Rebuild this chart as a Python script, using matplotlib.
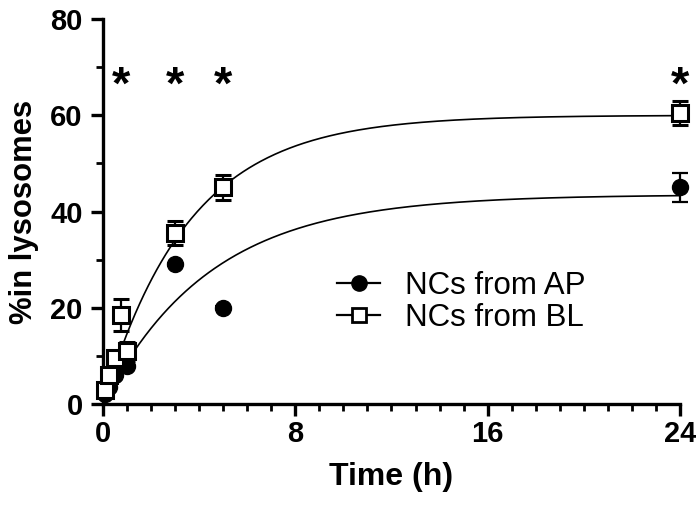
import numpy as np
import matplotlib
matplotlib.use("Agg")
import matplotlib.pyplot as plt
from matplotlib.ticker import MultipleLocator

plt.rcParams['font.family'] = ['Liberation Sans', 'DejaVu Sans']

# ---- data ----
time_h = [0.083, 0.25, 0.5, 0.75, 1, 3, 5, 24]
ap_mean = [2.0, 3.5, 6.0, 9.5, 8.0, 29.0, 20.0, 45.0]
ap_err = [0.3, 0.3, 0.3, 0.3, 0.3, 0.3, 0.3, 3.0]
bl_mean = [3.0, 6.0, 9.6, 18.5, 11.0, 35.5, 45.0, 60.5]
bl_err = [1.0, 1.0, 1.0, 3.3, 2.0, 2.5, 2.5, 2.5]

# one-phase association fit parameters (plateau, rate constant)
ap_fit = (43.5, 0.225)
bl_fit = (60.0, 0.28)

star_times = [0.75, 3, 5, 24]
star_y = 66

fig = plt.figure(figsize=(6.96, 5.07), dpi=100)
ax = fig.add_axes([0.148, 0.203, 0.829, 0.7595])

tfit = np.linspace(time_h[0], 24, 400)
for (plat, k) in (ap_fit, bl_fit):
    ax.plot(tfit, plat * (1 - np.exp(-k * tfit)), color='black', lw=1.2, zorder=2)

ax.errorbar(time_h, ap_mean, yerr=ap_err, fmt='o', ms=11.5, color='black',
            mfc='black', mec='black', ecolor='black', elinewidth=1.6,
            capsize=5.6, capthick=1.6, clip_on=False, zorder=3)
ax.errorbar(time_h, bl_mean, yerr=bl_err, fmt='s', ms=11, color='black',
            mfc='white', mec='black', mew=2.2, ecolor='black', elinewidth=1.6,
            capsize=5.6, capthick=1.6, clip_on=False, zorder=4)

for t in star_times:
    ax.text(t, star_y, '*', ha='center', va='center', fontsize=34,
            fontweight='bold', clip_on=False)

# legend proxies
h1, = ax.plot([], [], '-o', color='black', ms=11, lw=1.6)
h2, = ax.plot([], [], '-s', color='black', ms=10, mfc='white', mew=2, lw=1.6)
ax.legend([h1, h2], ['NCs from AP', 'NCs from BL'], loc='upper left',
          bbox_to_anchor=(0.405, 0.345), frameon=False, fontsize=22.5,
          handlelength=1.4, handletextpad=0.8, labelspacing=0.05,
          borderaxespad=0, borderpad=0)

ax.set_xlim(0, 24)
ax.set_ylim(0, 80)
ax.xaxis.set_major_locator(MultipleLocator(8))
ax.xaxis.set_minor_locator(MultipleLocator(1))
ax.yaxis.set_major_locator(MultipleLocator(20))
ax.yaxis.set_minor_locator(MultipleLocator(10))

for s in ('top', 'right'):
    ax.spines[s].set_visible(False)
for s in ('left', 'bottom'):
    ax.spines[s].set_linewidth(2.4)

ax.tick_params(which='major', length=8.5, width=2.4, direction='out',
               labelsize=21)
ax.tick_params(axis='y', which='major', pad=6)
ax.tick_params(axis='x', which='major', pad=3)
ax.tick_params(which='minor', length=5, width=2.0, direction='out')
for lab in ax.get_xticklabels() + ax.get_yticklabels():
    lab.set_fontweight('bold')

ax.set_xlabel('Time (h)', fontsize=23, fontweight='bold', labelpad=10)
ax.set_ylabel('%in lysosomes', fontsize=22.3, fontweight='bold', labelpad=8)

fig.savefig('out.png', dpi=100)
